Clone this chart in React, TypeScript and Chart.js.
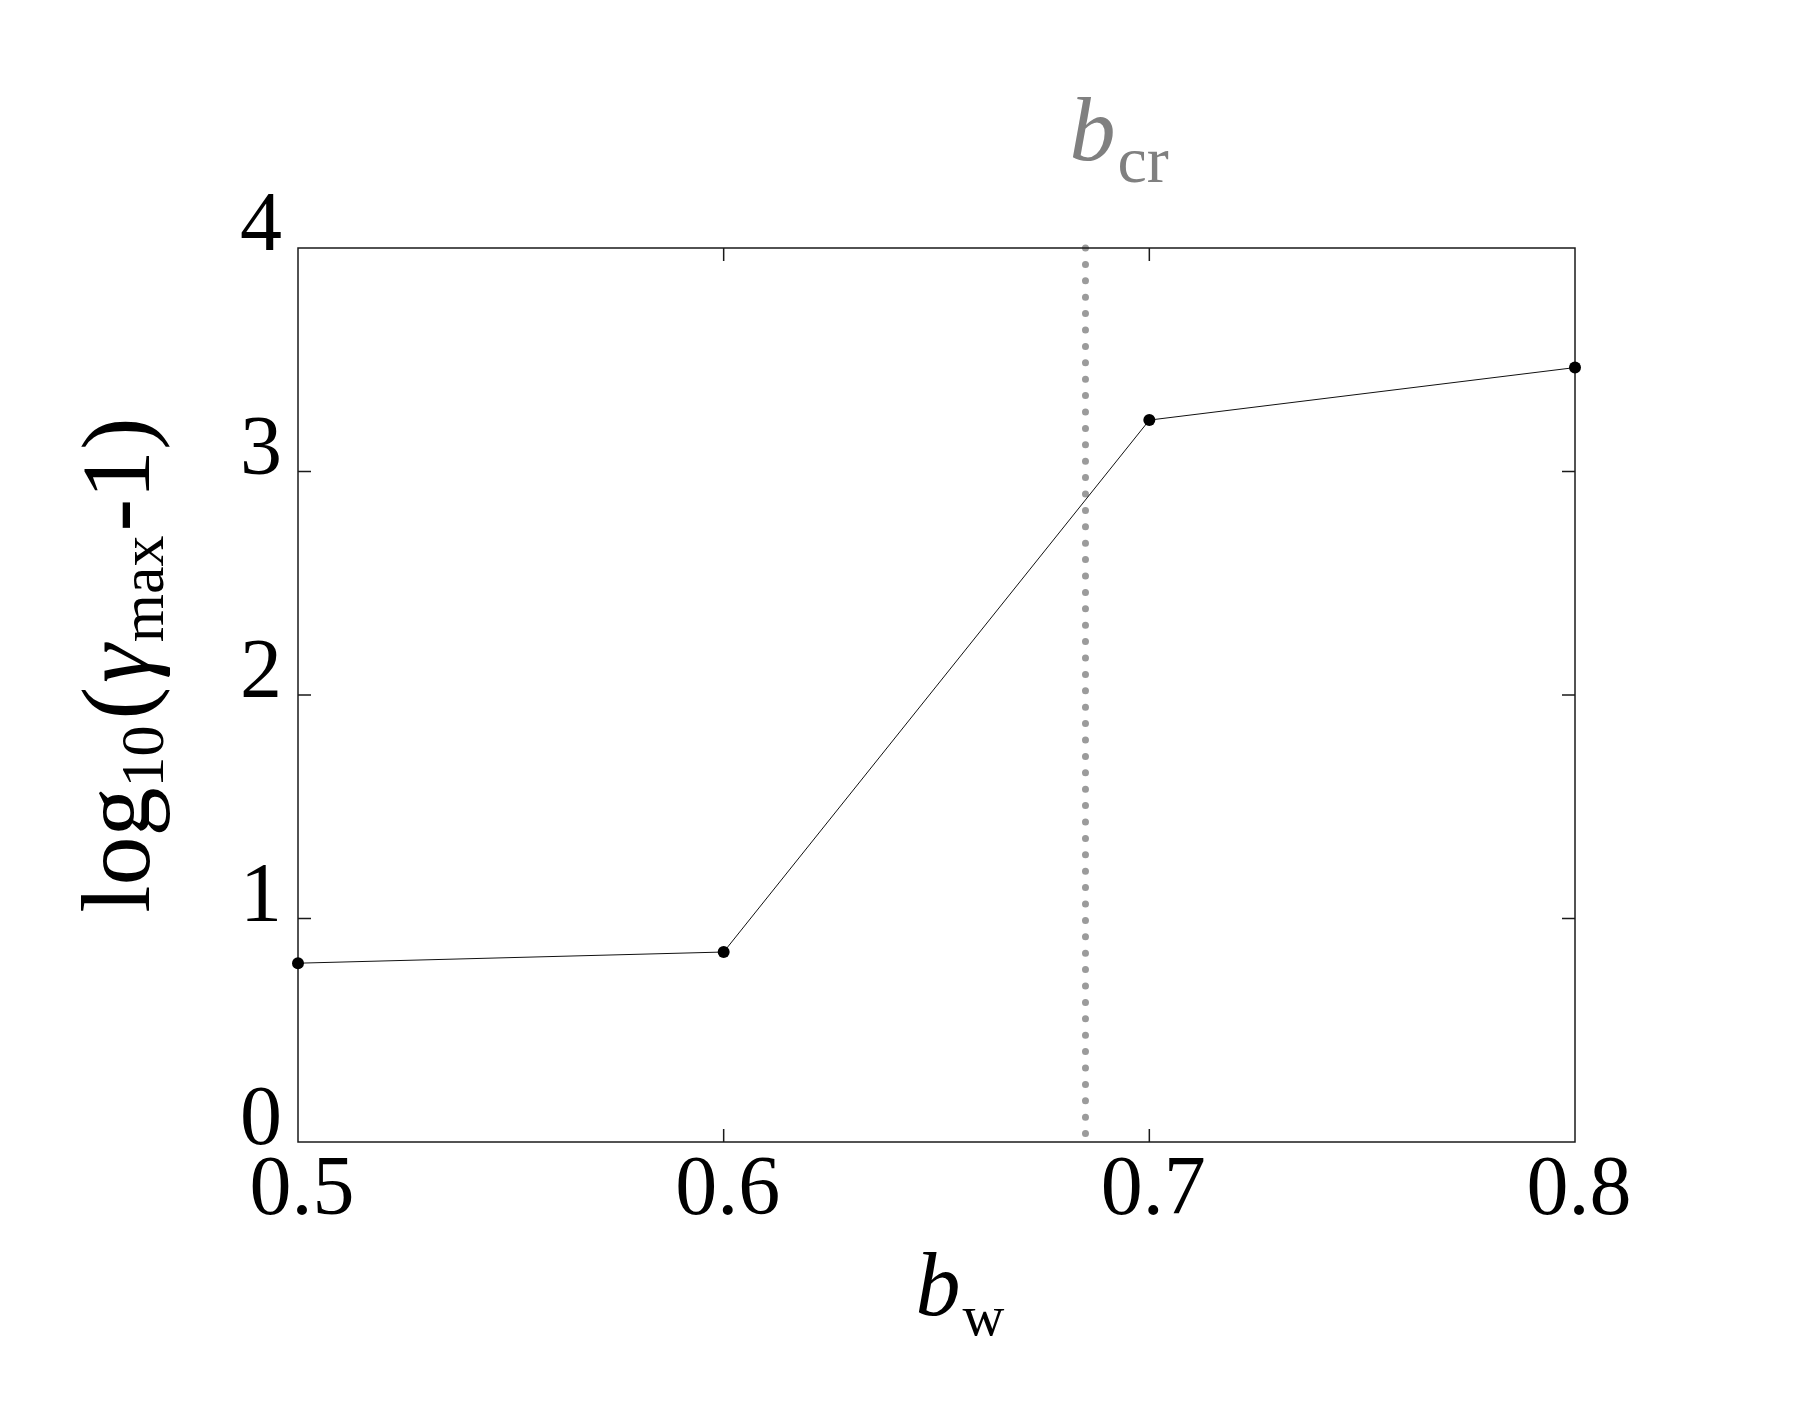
import React, { useEffect, useRef } from "react";
import { Chart, registerables } from "chart.js";

Chart.register(...registerables);

// ---- data ----
const bwValues = [0.5, 0.6, 0.7, 0.8];
const logGammaValues = [0.8, 0.85, 3.23, 3.465];
const xTickValues = [0.5, 0.6, 0.7, 0.8];
const yTickValues = [0, 1, 2, 3, 4];
const xRange = [0.5, 0.8];
const yRange = [0, 4];
const bCritical = 0.685;

const SERIF = "'Liberation Serif', 'Times New Roman', serif";

type Seg = { text: string; size: number; italic?: boolean; dy?: number; gap?: number };

function segWidth(ctx: CanvasRenderingContext2D, segs: Seg[]) {
  let w = 0;
  for (const s of segs) {
    ctx.font = `${s.italic ? "italic " : ""}${s.size}px ${SERIF}`;
    w += ctx.measureText(s.text).width + (s.gap || 0);
  }
  return w;
}

function drawSegs(ctx: CanvasRenderingContext2D, segs: Seg[], x0: number, y0: number) {
  let x = x0;
  ctx.textBaseline = "alphabetic";
  ctx.textAlign = "left";
  for (const s of segs) {
    ctx.font = `${s.italic ? "italic " : ""}${s.size}px ${SERIF}`;
    ctx.fillText(s.text, x, y0 + (s.dy || 0));
    x += ctx.measureText(s.text).width + (s.gap || 0);
  }
}

const decorPlugin = {
  id: "decor",
  beforeDatasetsDraw(chart: any) {
    const { ctx, chartArea: a, scales } = chart;
    const xs = scales.x;
    const ys = scales.y;
    ctx.save();
    // critical dotted line
    const px = xs.getPixelForValue(bCritical);
    ctx.strokeStyle = "#9b9b9b";
    ctx.lineWidth = 7;
    ctx.lineCap = "round";
    ctx.setLineDash([0, 16.4]);
    ctx.beginPath();
    ctx.moveTo(px, a.top);
    ctx.lineTo(px, a.bottom);
    ctx.stroke();
    ctx.setLineDash([]);
    ctx.lineCap = "butt";
    // frame
    ctx.strokeStyle = "#1a1a1a";
    ctx.lineWidth = 1.5;
    ctx.strokeRect(a.left, a.top, a.right - a.left, a.bottom - a.top);
    // inner ticks
    const tl = 13;
    ctx.beginPath();
    for (const v of yTickValues) {
      if (v <= yRange[0] || v >= yRange[1]) continue;
      const py = ys.getPixelForValue(v);
      ctx.moveTo(a.left, py);
      ctx.lineTo(a.left + tl, py);
      ctx.moveTo(a.right, py);
      ctx.lineTo(a.right - tl, py);
    }
    for (const v of xTickValues) {
      if (v <= xRange[0] || v >= xRange[1]) continue;
      const p = xs.getPixelForValue(v);
      ctx.moveTo(p, a.top);
      ctx.lineTo(p, a.top + tl);
      ctx.moveTo(p, a.bottom);
      ctx.lineTo(p, a.bottom - tl);
    }
    ctx.stroke();
    ctx.restore();
  },
  afterDraw(chart: any) {
    const { ctx, scales } = chart;
    const xs = scales.x;
    ctx.save();
    ctx.fillStyle = "#000";
    // x title b_w
    const xSegs: Seg[] = [
      { text: "b", size: 90, italic: true, gap: 2 },
      { text: "w", size: 58, dy: 20 },
    ];
    const xw = segWidth(ctx, xSegs);
    drawSegs(ctx, xSegs, 960 - xw / 2, 1315);

    // y title log10(γmax-1), rotated
    const ySegs: Seg[] = [
      { text: "log", size: 98 },
      { text: "10", size: 62, dy: 14, gap: 6 },
      { text: "(", size: 98, gap: 4 },
      { text: "γ", size: 98, italic: true, gap: 2 },
      { text: "max", size: 62, dy: 14, gap: 4 },
      { text: "-1)", size: 98 },
    ];
    const yw = segWidth(ctx, ySegs);
    ctx.save();
    ctx.translate(149, 665);
    ctx.rotate(-Math.PI / 2);
    drawSegs(ctx, ySegs, -yw / 2, 0);
    ctx.restore();

    // b_cr label
    ctx.fillStyle = "#808080";
    const px = xs.getPixelForValue(bCritical);
    const cSegs: Seg[] = [
      { text: "b", size: 92, italic: true, gap: 2 },
      { text: "cr", size: 66, dy: 22 },
    ];
    drawSegs(ctx, cSegs, px - 16, 160);
    ctx.restore();
  },
};

export default function App() {
  const ref = useRef<HTMLCanvasElement | null>(null);
  useEffect(() => {
    if (!ref.current) return;
    const chart = new Chart(ref.current, {
      type: "line",
      data: {
        datasets: [
          {
            data: bwValues.map((b, i) => ({ x: b, y: logGammaValues[i] })),
            borderColor: "#111",
            borderWidth: 1,
            pointRadius: 6,
            pointBackgroundColor: "#000",
            pointBorderColor: "#000",
            pointBorderWidth: 0,
            tension: 0,
            clip: false as any,
          },
        ],
      },
      options: {
        responsive: false,
        animation: false,
        devicePixelRatio: 1,
        layout: { padding: { left: 0, top: 248, right: 244, bottom: 0 } },
        plugins: { legend: { display: false }, tooltip: { enabled: false } },
        scales: {
          x: {
            type: "linear",
            min: xRange[0],
            max: xRange[1],
            grid: { display: false, drawTicks: false },
            border: { display: false },
            afterFit: (s: any) => {
              s.height = 272;
            },
            afterBuildTicks: (s: any) => {
              s.ticks = xTickValues.map((v) => ({ value: v }));
            },
            ticks: {
              font: { family: SERIF, size: 84 },
              color: "#000",
              padding: 0,
              labelOffset: 4,
              maxRotation: 0,
              callback: (v: any) => Number(v).toFixed(1),
            },
          },
          y: {
            type: "linear",
            min: yRange[0],
            max: yRange[1],
            grid: { display: false, drawTicks: false },
            border: { display: false },
            afterFit: (s: any) => {
              s.width = 298;
            },
            afterBuildTicks: (s: any) => {
              s.ticks = yTickValues.map((v) => ({ value: v }));
            },
            ticks: {
              font: { family: SERIF, size: 84 },
              color: "#000",
              padding: 16,
              labelOffset: -20,
              callback: (v: any) => String(v),
            },
          },
        },
      },
      plugins: [decorPlugin],
    });
    return () => chart.destroy();
  }, []);
  return (
    <div style={{ position: "absolute", left: 0, top: 0, width: 1819, height: 1414, background: "#fff" }}>
      <canvas ref={ref} width={1819} height={1414} style={{ width: 1819, height: 1414, display: "block" }} />
    </div>
  );
}
